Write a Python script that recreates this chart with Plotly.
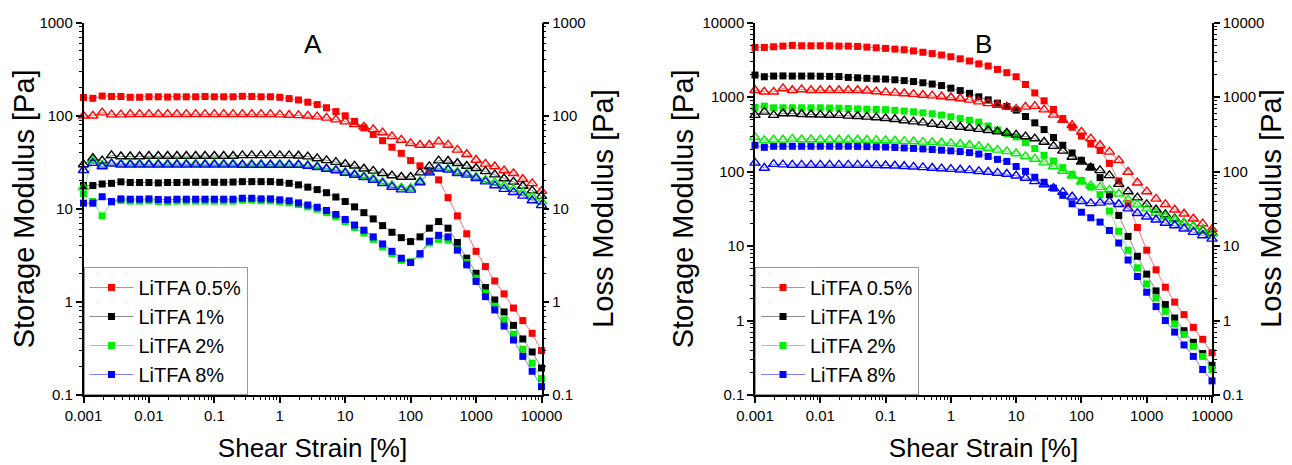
import plotly.graph_objects as go

# ---------------- data ----------------
strain = [0.001, 0.00139, 0.00193, 0.00268, 0.00373, 0.00518, 0.0072,
          0.01, 0.0139, 0.0193, 0.0268, 0.0373, 0.0518, 0.072,
          0.1, 0.139, 0.193, 0.268, 0.373, 0.518, 0.72,
          1, 1.39, 1.93, 2.68, 3.73, 5.18, 7.2,
          10, 13.9, 19.3, 26.8, 37.3, 51.8, 72,
          100, 139, 193, 268, 373, 518, 720,
          1000, 1390, 1930, 2680, 3730, 5180, 7200, 10000]

labels = ["LiTFA 0.5%", "LiTFA 1%", "LiTFA 2%", "LiTFA 8%"]

# Panel A  (storage G', loss G'')
A_storage_05 = [157, 154, 163, 161, 161, 158, 158, 160, 160, 159, 160, 160, 160, 161, 160, 160, 160,
                162, 161, 160, 160, 158, 153, 148, 140, 132, 122, 111, 100, 87, 74, 63, 54, 46, 39.5,
                33, 29, 25.8, 20.5, 13.2, 8.4, 5.4, 3.5, 2.4, 1.68, 1.22, 0.86, 0.63, 0.46, 0.30]
A_loss_05 = [100, 100, 108, 103, 103, 104, 104, 104, 104, 104, 104, 104, 104, 104, 104, 104, 104,
             104, 104, 104, 104, 103, 102, 101, 100, 98, 95, 91, 86.5, 81, 76, 71.5, 66, 60, 55,
             50.6, 48.5, 48.5, 52.7, 48.6, 43, 38.6, 33.5, 30.4, 28.5, 25.8, 24.1, 20.8, 18.8, 15.5]
A_storage_1 = [17.8, 17.8, 18.5, 18.8, 19.5, 19.2, 19.2, 19.2, 19.0, 19.2, 19.2, 19.3, 19.3, 19.3, 19.3, 19.3, 19.4,
               19.6, 19.6, 19.6, 19.6, 19.3, 18.8, 18.1, 17.1, 16.1, 14.9, 13.4, 12.0, 10.5, 9.1, 7.8, 6.6, 5.6, 4.9,
               4.45, 5.0, 6.2, 7.3, 6.2, 4.35, 2.95, 2.03, 1.43, 1.05, 0.78, 0.56, 0.40, 0.29, 0.195]
A_loss_1 = [30, 35, 33, 37.5, 36.5, 36.5, 36.5, 37, 37, 37, 37, 37, 37, 37, 37, 37, 37,
            37.5, 37.5, 37.5, 37.5, 37.5, 37.5, 37.2, 36.4, 34.8, 33.2, 31.8, 30.3, 29, 27, 25.6, 24.1, 22.8, 22,
            22, 24.5, 28.6, 33, 32.7, 30.9, 28.9, 27.3, 25.3, 23.3, 21.2, 19.5, 17.6, 15.7, 13.7]
A_storage_2 = [14.5, 12.0, 8.4, 11.8, 12.3, 12.1, 12.1, 12.2, 12.0, 11.9, 12.1, 12.1, 12.1, 12.1, 12.1, 12.1, 12.1,
               12.4, 12.4, 12.2, 12.2, 11.9, 11.6, 11.1, 10.5, 9.9, 9.1, 8.2, 7.3, 6.3, 5.5, 4.7, 3.9, 3.3, 2.8,
               2.7, 3.2, 4.3, 4.7, 4.6, 3.7, 2.65, 1.8, 1.25, 0.9, 0.64, 0.45, 0.31, 0.22, 0.15]
A_loss_2 = [17, 33, 29.5, 31, 30.5, 30.5, 30.5, 30.5, 30.5, 30.5, 30.5, 30.5, 30.5, 30.5, 30.5, 30.5, 30.5,
            30.3, 30.3, 30.3, 30.3, 30.3, 30.2, 30.2, 29.5, 28.6, 27.3, 26.4, 24.8, 23.8, 22.5, 21.1, 19.5, 18.0, 16.9,
            16.8, 19.8, 24.5, 27.5, 27, 25, 24, 22, 20.5, 19.2, 17.7, 16.3, 15.0, 13.5, 12.0]
A_storage_8 = [11.5, 11.5, 13.5, 12.0, 12.8, 12.7, 12.7, 12.8, 12.6, 12.5, 12.7, 12.7, 12.7, 12.7, 12.7, 12.7, 12.7,
               13.0, 13.0, 12.8, 12.8, 12.5, 12.2, 11.6, 11.0, 10.4, 9.6, 8.7, 7.7, 6.7, 5.9, 5.0, 4.2, 3.5, 2.95,
               2.65, 3.3, 4.5, 5.2, 5.0, 3.6, 2.5, 1.66, 1.14, 0.82, 0.55, 0.39, 0.26, 0.18, 0.123]
A_loss_8 = [26, 31, 28.5, 30.4, 29.8, 29.8, 29.8, 29.8, 29.8, 29.8, 29.8, 29.8, 29.8, 29.8, 29.8, 29.8, 29.8,
            29.6, 29.6, 29.6, 29.6, 29.6, 29.6, 29.6, 28.9, 28.0, 26.8, 25.8, 24.3, 23.1, 21.8, 20.4, 18.8, 17.2, 16.1,
            16.0, 19.2, 24.5, 27, 26.2, 24.1, 23.2, 21.3, 19.6, 17.8, 16.3, 15.1, 13.8, 12.3, 10.9]

# Panel B
B_storage_05 = [4650, 4650, 4750, 4850, 4950, 4900, 4900, 4900, 4900, 4850, 4850, 4800, 4700, 4600, 4520, 4420, 4330,
                4180, 4010, 3850, 3680, 3490, 3270, 3060, 2800, 2620, 2360, 2130, 1880, 1480, 1140, 893, 683, 516, 395,
                300, 235, 192, 129, 75, 37, 17.8, 8.8, 4.8, 2.8, 1.77, 1.2, 0.81, 0.56, 0.37]
B_loss_05 = [1240, 1180, 1180, 1310, 1240, 1270, 1240, 1240, 1240, 1240, 1240, 1240, 1220, 1190, 1160, 1140, 1120,
             1100, 1070, 1050, 1020, 990, 960, 920, 870, 825, 785, 745, 690, 741, 757, 680, 578, 491, 420,
             342, 278, 226, 184, 142, 99, 71, 54, 43, 36.3, 30.8, 27.2, 23.3, 20, 16.8]
B_storage_1 = [1980, 1880, 1920, 1930, 1920, 1920, 1920, 1910, 1900, 1890, 1840, 1820, 1790, 1760, 1750, 1710, 1670,
               1620, 1560, 1500, 1430, 1320, 1225, 1125, 1010, 920, 830, 750, 670, 550, 452, 367, 287, 226, 178,
               142, 115, 83, 49, 25.8, 13.5, 7.3, 4.2, 2.5, 1.64, 1.08, 0.73, 0.51, 0.36, 0.25]
B_loss_1 = [573, 635, 573, 603, 603, 590, 585, 580, 575, 573, 561, 555, 543, 532, 520, 505, 485,
            470, 455, 437, 422, 408, 398, 385, 372, 360, 345, 330, 312, 296, 278, 250, 220, 190, 157,
            135, 113, 104, 89, 68, 54, 44.7, 36.3, 30.8, 26.6, 23.3, 20.4, 18.4, 16.2, 15]
B_storage_2 = [726, 757, 720, 720, 720, 720, 720, 720, 715, 712, 704, 695, 688, 684, 680, 665, 650,
               635, 615, 598, 575, 545, 516, 490, 462, 410, 362, 324, 293, 245, 204, 166, 139, 113, 92,
               76, 62, 49, 29.5, 15.8, 8.8, 5.1, 3.1, 2.0, 1.33, 0.90, 0.65, 0.45, 0.33, 0.22]
B_loss_2 = [290, 262, 268, 268, 275, 270, 270, 268, 268, 268, 268, 268, 266, 265, 262, 260, 257,
            254, 251, 248, 244, 240, 235, 228, 219, 206, 196, 187, 175, 160, 148, 132, 117, 102, 88,
            73, 65, 62, 57, 50.5, 42, 36, 31.8, 27.8, 25, 22.6, 20.4, 18.4, 16.6, 14.6]
B_storage_8 = [226, 212, 219, 219, 219, 219, 219, 219, 219, 219, 219, 218, 217, 215, 214, 211, 208,
               205, 202, 198, 194, 190, 186, 180, 172, 160, 146, 137, 117, 101, 84, 72, 60, 48, 37,
               28.5, 24, 21, 16.2, 11, 6.5, 3.9, 2.4, 1.54, 1.0, 0.70, 0.47, 0.33, 0.22, 0.155]
B_loss_8 = [131, 112, 126, 124, 123, 123, 123, 123, 123, 123, 123, 123, 123, 122, 121, 120, 118,
            116, 114, 112, 110, 108, 106, 104, 101, 99, 96, 93, 88, 82, 74, 67, 60, 53, 46,
            40, 37.5, 38, 39.5, 36.5, 31.8, 27.6, 24.8, 22.6, 20.4, 18.9, 17.1, 15.4, 13.9, 12.5]

x_tickvals = [0.001, 0.01, 0.1, 1, 10, 100, 1000, 10000]
x_ticktext = ["0.001", "0.01", "0.1", "1", "10", "100", "1000", "10000"]
yA_tickvals = [0.1, 1, 10, 100, 1000]
yA_ticktext = ["0.1", "1", "10", "100", "1000"]
yB_tickvals = [0.1, 1, 10, 100, 1000, 10000]
yB_ticktext = ["0.1", "1", "10", "100", "1000", "10000"]

# ---------------- style ----------------
colors = ["#FF0000", "#000000", "#00EE00", "#0000FF"]
line_colors = ["rgba(255,0,0,0.55)", "rgba(0,0,0,0.45)", "rgba(0,220,0,0.55)", "rgba(0,0,255,0.5)"]
FONT = "Arial, 'Liberation Sans', sans-serif"

# the page body has an 8 px margin, so the figure is placed at (8, 8) in the window
OFF = 8
W, H = 1292 - OFF, 465 - OFF
def px_x(p):
    return (p - OFF) / W
def px_y(p):
    return 1 - (p - OFF) / H

domA = [px_x(83.5), px_x(541.5)]
domB = [px_x(755), px_x(1212)]
domY = [px_y(395), px_y(22.7)]

def minor_vals(lo, hi):
    vals = []
    for e in range(lo, hi):
        for m in range(2, 10):
            vals.append(m * 10 ** e)
    return vals

fig = go.Figure()

setA_s = [A_storage_05, A_storage_1, A_storage_2, A_storage_8]
setA_l = [A_loss_05, A_loss_1, A_loss_2, A_loss_8]
setB_s = [B_storage_05, B_storage_1, B_storage_2, B_storage_8]
setB_l = [B_loss_05, B_loss_1, B_loss_2, B_loss_8]

for k in range(4):
    fig.add_trace(go.Scatter(x=strain, y=setA_s[k], mode="lines+markers", name=labels[k],
                             xaxis="x", yaxis="y", legend="legend", cliponaxis=False,
                             line=dict(color=line_colors[k], width=1),
                             marker=dict(symbol="square", size=7, color=colors[k])))
for k in range(4):
    fig.add_trace(go.Scatter(x=strain, y=setA_l[k], mode="lines+markers", name=labels[k] + " G''",
                             xaxis="x", yaxis="y2", showlegend=False, cliponaxis=False,
                             line=dict(color=line_colors[k], width=1),
                             marker=dict(symbol="triangle-up-open", size=9, color=colors[k],
                                         line=dict(width=1.4, color=colors[k]))))
for k in range(4):
    fig.add_trace(go.Scatter(x=strain, y=setB_s[k], mode="lines+markers", name=labels[k],
                             xaxis="x2", yaxis="y3", legend="legend2", cliponaxis=False,
                             line=dict(color=line_colors[k], width=1),
                             marker=dict(symbol="square", size=7, color=colors[k])))
for k in range(4):
    fig.add_trace(go.Scatter(x=strain, y=setB_l[k], mode="lines+markers", name=labels[k] + " G''",
                             xaxis="x2", yaxis="y4", showlegend=False, cliponaxis=False,
                             line=dict(color=line_colors[k], width=1),
                             marker=dict(symbol="triangle-up-open", size=9, color=colors[k],
                                         line=dict(width=1.4, color=colors[k]))))

tickfont = dict(family=FONT, size=15, color="black")
xtitlefont = dict(family=FONT, size=26, color="black")
ytitlefont = dict(family=FONT, size=29, color="black")

def xax(domain, anchor, title):
    return dict(type="log", range=[-3, 4], domain=domain, anchor=anchor, automargin=False,
                tickmode="array", tickvals=x_tickvals, ticktext=x_ticktext,
                ticks="outside", ticklen=6, tickwidth=1.5, tickcolor="black",
                minor=dict(ticks="outside", ticklen=3, tickwidth=1, tickcolor="black",
                           tickmode="array", tickvals=minor_vals(-3, 4), showgrid=False),
                showline=True, linewidth=1.5, linecolor="black", showgrid=False, zeroline=False,
                tickfont=tickfont, title=dict(text=title, font=xtitlefont, standoff=16))

def xtop(over, anchor, domain):
    return dict(type="log", range=[-3, 4], overlaying=over, side="top", anchor=anchor, domain=domain,
                automargin=False,
                tickmode="array", tickvals=x_tickvals, showticklabels=False,
                ticks="inside", ticklen=6, tickwidth=1.5, tickcolor="black",
                minor=dict(ticks="inside", ticklen=3, tickwidth=1, tickcolor="black",
                           tickmode="array", tickvals=minor_vals(-3, 4), showgrid=False),
                showline=True, linewidth=1.5, linecolor="black", showgrid=False, zeroline=False)

def yax(rng, tv, tt, anchor, side, title, standoff, over=None):
    d = dict(type="log", range=rng, domain=domY, anchor=anchor, side=side, automargin=False,
             tickmode="array", tickvals=tv, ticktext=tt,
             ticks="outside", ticklen=6, tickwidth=1.5, tickcolor="black",
             minor=dict(ticks="outside", ticklen=3, tickwidth=1, tickcolor="black",
                        tickmode="array", tickvals=minor_vals(rng[0], rng[1]), showgrid=False),
             showline=True, linewidth=1.5, linecolor="black", showgrid=False, zeroline=False,
             tickfont=tickfont)
    if title:
        d["title"] = dict(text=title, font=ytitlefont, standoff=standoff)
    if over:
        d["overlaying"] = over
    return d

legend_common = dict(font=dict(family=FONT, size=20, color="black"), bgcolor="white",
                     bordercolor="#9a9a9a", borderwidth=1, xanchor="left", yanchor="bottom",
                     itemwidth=44, tracegroupgap=0, itemclick=False, itemdoubleclick=False)

def vtitle(text, xpx):
    return dict(text=text, x=px_x(xpx), y=(domY[0] + domY[1]) / 2, xref="paper", yref="paper",
                xanchor="center", yanchor="middle", textangle=-90, showarrow=False,
                font=ytitlefont)

fig.update_layout(
    width=W, height=H, margin=dict(l=0, r=0, t=0, b=0, autoexpand=False),
    paper_bgcolor="white", plot_bgcolor="white",
    font=dict(family=FONT, color="black"),
    xaxis=xax(domA, "y", "Shear Strain [%]"),
    xaxis2=xax(domB, "y3", "Shear Strain [%]"),
    xaxis3=xtop("x", "y", domA),
    xaxis4=xtop("x2", "y3", domB),
    yaxis=yax([-1, 3], yA_tickvals, yA_ticktext, "x", "left", "Storage Modulus [Pa]", 0),
    yaxis2=yax([-1, 3], yA_tickvals, yA_ticktext, "x", "right", None, 0, over="y"),
    yaxis3=yax([-1, 4], yB_tickvals, yB_ticktext, "x2", "left", "Storage Modulus [Pa]", 0),
    yaxis4=yax([-1, 4], yB_tickvals, yB_ticktext, "x2", "right", None, 0, over="y3"),
    legend=dict(x=domA[0], y=domY[0], **legend_common),
    legend2=dict(x=domB[0], y=domY[0], **legend_common),
    annotations=[
        dict(text="A", x=(domA[0] + domA[1]) / 2, y=px_y(44), xref="paper", yref="paper",
             xanchor="center", yanchor="middle",
             showarrow=False, font=dict(family=FONT, size=26, color="black")),
        dict(text="B", x=(domB[0] + domB[1]) / 2, y=px_y(44), xref="paper", yref="paper",
             xanchor="center", yanchor="middle",
             showarrow=False, font=dict(family=FONT, size=26, color="black")),
        vtitle("Loss Modulus [Pa]", 603),
        vtitle("Loss Modulus [Pa]", 1271),
    ],
    showlegend=True,
)

fig.write_html("out.html")
